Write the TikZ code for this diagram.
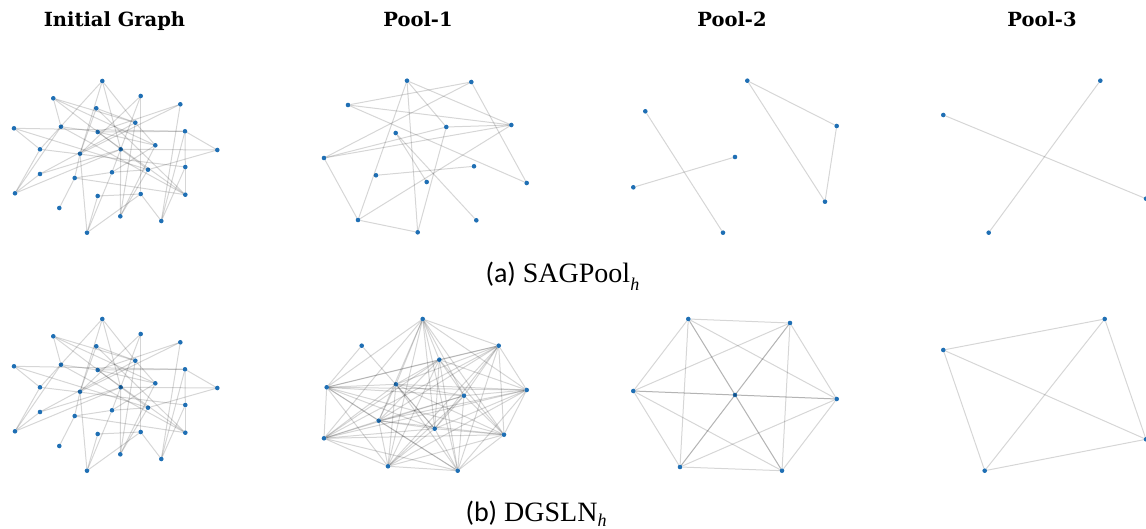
\documentclass[tikz,border=0pt]{standalone}
\usepackage{fontspec}
\setmainfont{Liberation Serif}
\newfontfamily\titlefont{DejaVu Serif}
\newfontfamily\capfont{Carlito}
\usetikzlibrary{positioning}
\definecolor{nodeblue}{HTML}{1F6FB4}

\begin{document}
\begin{tikzpicture}
		[x=1pt, y=-1pt,
		vsty/.style={circle, fill=nodeblue, inner sep=0pt, minimum size=4.6pt},
		esty/.style={draw=black, draw opacity=0.16, line width=1pt},
		titlesty/.style={anchor=base, font=\titlefont\bfseries\fontsize{19.5}{21}\selectfont},
		capsty/.style={anchor=base west, font=\fontsize{28}{30}\selectfont}]
		\useasboundingbox (0,0) rectangle (1146,529);
		
		% column titles
		\node (title 0) at (114.5,27) [titlesty] {Initial Graph};
		\node (title 1) at (418,27) [titlesty] {Pool-1};
		\node (title 2) at (732,27) [titlesty] {Pool-2};
		\node (title 3) at (1042,27) [titlesty] {Pool-3};
		
		% initial graph, drawn twice
		\foreach \r/\dy in {a/0, b/238} {
			\foreach \n/\x/\y in {1/102.3/81, 2/53.3/98.3, 3/140.7/96, 4/180.3/104.3,
				5/96.3/108.3, 6/135.3/122.7, 7/14/128.3, 8/61/126.7, 9/97.7/132,
				10/185/131.3, 11/155.3/145.3, 12/40/149.3, 13/120.7/149.3, 14/80/153.7,
				15/217.3/150, 16/185.3/167, 17/148/169.7, 18/112/172.3, 19/40/174,
				20/74.7/178, 21/15/193.3, 22/97.7/196, 23/140.7/194, 24/185.3/194.7,
				25/59.3/208, 26/120.3/216.3, 27/161.3/221, 28/87/232.7}
				\node (i\r\space\n) at (\x,\y+\dy) [vsty] {};
			\foreach \p/\q in {1/12, 1/6, 1/14, 1/13, 2/8, 2/6, 2/17, 3/23, 3/18, 3/14,
				4/14, 4/27, 4/9, 5/6, 5/14, 5/24, 6/26, 6/11, 7/12, 7/10, 7/17, 8/21,
				8/24, 8/9, 9/10, 9/24, 10/16, 10/15, 10/27, 11/18, 13/15, 15/17, 12/21,
				12/16, 13/19, 14/20, 16/24, 17/18, 18/20, 18/28, 19/21, 19/6, 20/24,
				20/25, 22/23, 22/28, 23/27, 23/28, 26/17, 26/11, 27/16, 13/26, 9/11,
				21/13, 2/11, 14/28}
				\draw[esty] (i\r\space\p) -- (i\r\space\q);
		}
		
		% SAGPool, pool-1
		\foreach \n/\x/\y in {1/407/80.7, 2/471.3/82, 3/348/105, 4/511.3/125,
			5/446.3/127, 6/395.7/133, 7/324/158, 8/474/166.3, 9/376/175.3,
			10/426.7/182, 11/526.7/183, 12/358/220, 13/476.3/220.3, 14/417.7/232.3}
			\node (pa \n) at (\x,\y) [vsty] {};
		\foreach \p/\q in {1/12, 1/14, 1/4, 1/5, 3/2, 3/4, 3/11, 2/7, 2/11, 7/4,
			7/5, 7/12, 12/14, 12/4, 14/5, 9/8, 6/13, 6/10, 5/4}
			\draw[esty] (pa \p) -- (pa \q);
		
		% SAGPool, pool-2
		\foreach \n/\x/\y in {1/645.3/111.3, 2/747.3/80.7, 3/836.7/126, 4/735/157,
			5/633.3/187.3, 6/825/201.7, 7/723/232.7}
			\node (pb \n) at (\x,\y) [vsty] {};
		\foreach \p/\q in {1/7, 5/4, 2/3, 3/6, 2/6}
			\draw[esty] (pb \p) -- (pb \q);
		
		% SAGPool, pool-3
		\node (pc 1) at (1100.3,80.7) [vsty] {};
		\node (pc 2) at (943.3,115) [vsty] {};
		\node (pc 3) at (1146,198.7) [vsty] {};
		\node (pc 4) at (988.7,232.7) [vsty] {};
		\draw[esty] (pc 2) -- (pc 3);
		\draw[esty] (pc 1) -- (pc 4);
		
		% DGSLN, pool-1
		\foreach \n/\x/\y in {1/422.7/319, 2/361.7/345.7, 3/498.7/345.7, 4/439.3/359.7,
			5/326.7/387.3, 6/396/384.3, 7/526.7/390, 8/464/395.7, 9/378.7/420.7,
			10/434.7/428.7, 11/324/438.3, 12/504/434.7, 13/388/466.3, 14/457.7/470.7}
			\node (qa \n) at (\x,\y) [vsty] {};
		\draw[esty] (qa 2) -- (qa 5);
		\draw[esty] (qa 2) -- (qa 10);
		\foreach \i in {1,3,4,...,14}
			\foreach \j in {1,3,4,...,14}
				{\ifnum\i<\j \draw[esty] (qa \i) -- (qa \j);\fi}
		
		% DGSLN, pool-2
		\foreach \n/\x/\y in {1/688.3/319, 2/790/323, 3/633.3/391, 4/735/395,
			5/836.7/399, 6/680/467, 7/782/470.7}
			\node (qb \n) at (\x,\y) [vsty] {};
		\foreach \i in {1,...,7}
			\foreach \j in {1,...,7}
				{\ifnum\i<\j \draw[esty] (qb \i) -- (qb \j);\fi}
		
		% DGSLN, pool-3
		\node (qc 1) at (1104.7,319) [vsty] {};
		\node (qc 2) at (943.3,350) [vsty] {};
		\node (qc 3) at (1146,439.3) [vsty] {};
		\node (qc 4) at (984.7,470.7) [vsty] {};
		\foreach \i in {1,...,4}
			\foreach \j in {1,...,4}
				{\ifnum\i<\j \draw[esty] (qc \i) -- (qc \j);\fi}
		
		% captions
		\node (cap a) at (482,283) [capsty] {{\capfont (a)} SAGPool\raisebox{-0.28em}{\fontsize{18}{18}\selectfont\itshape h}};
		\node (cap b) at (462,521) [capsty] {{\capfont (b)} DGSLN\raisebox{-0.2em}{\fontsize{18}{18}\selectfont\itshape h}};
	\end{tikzpicture}
\end{document}
